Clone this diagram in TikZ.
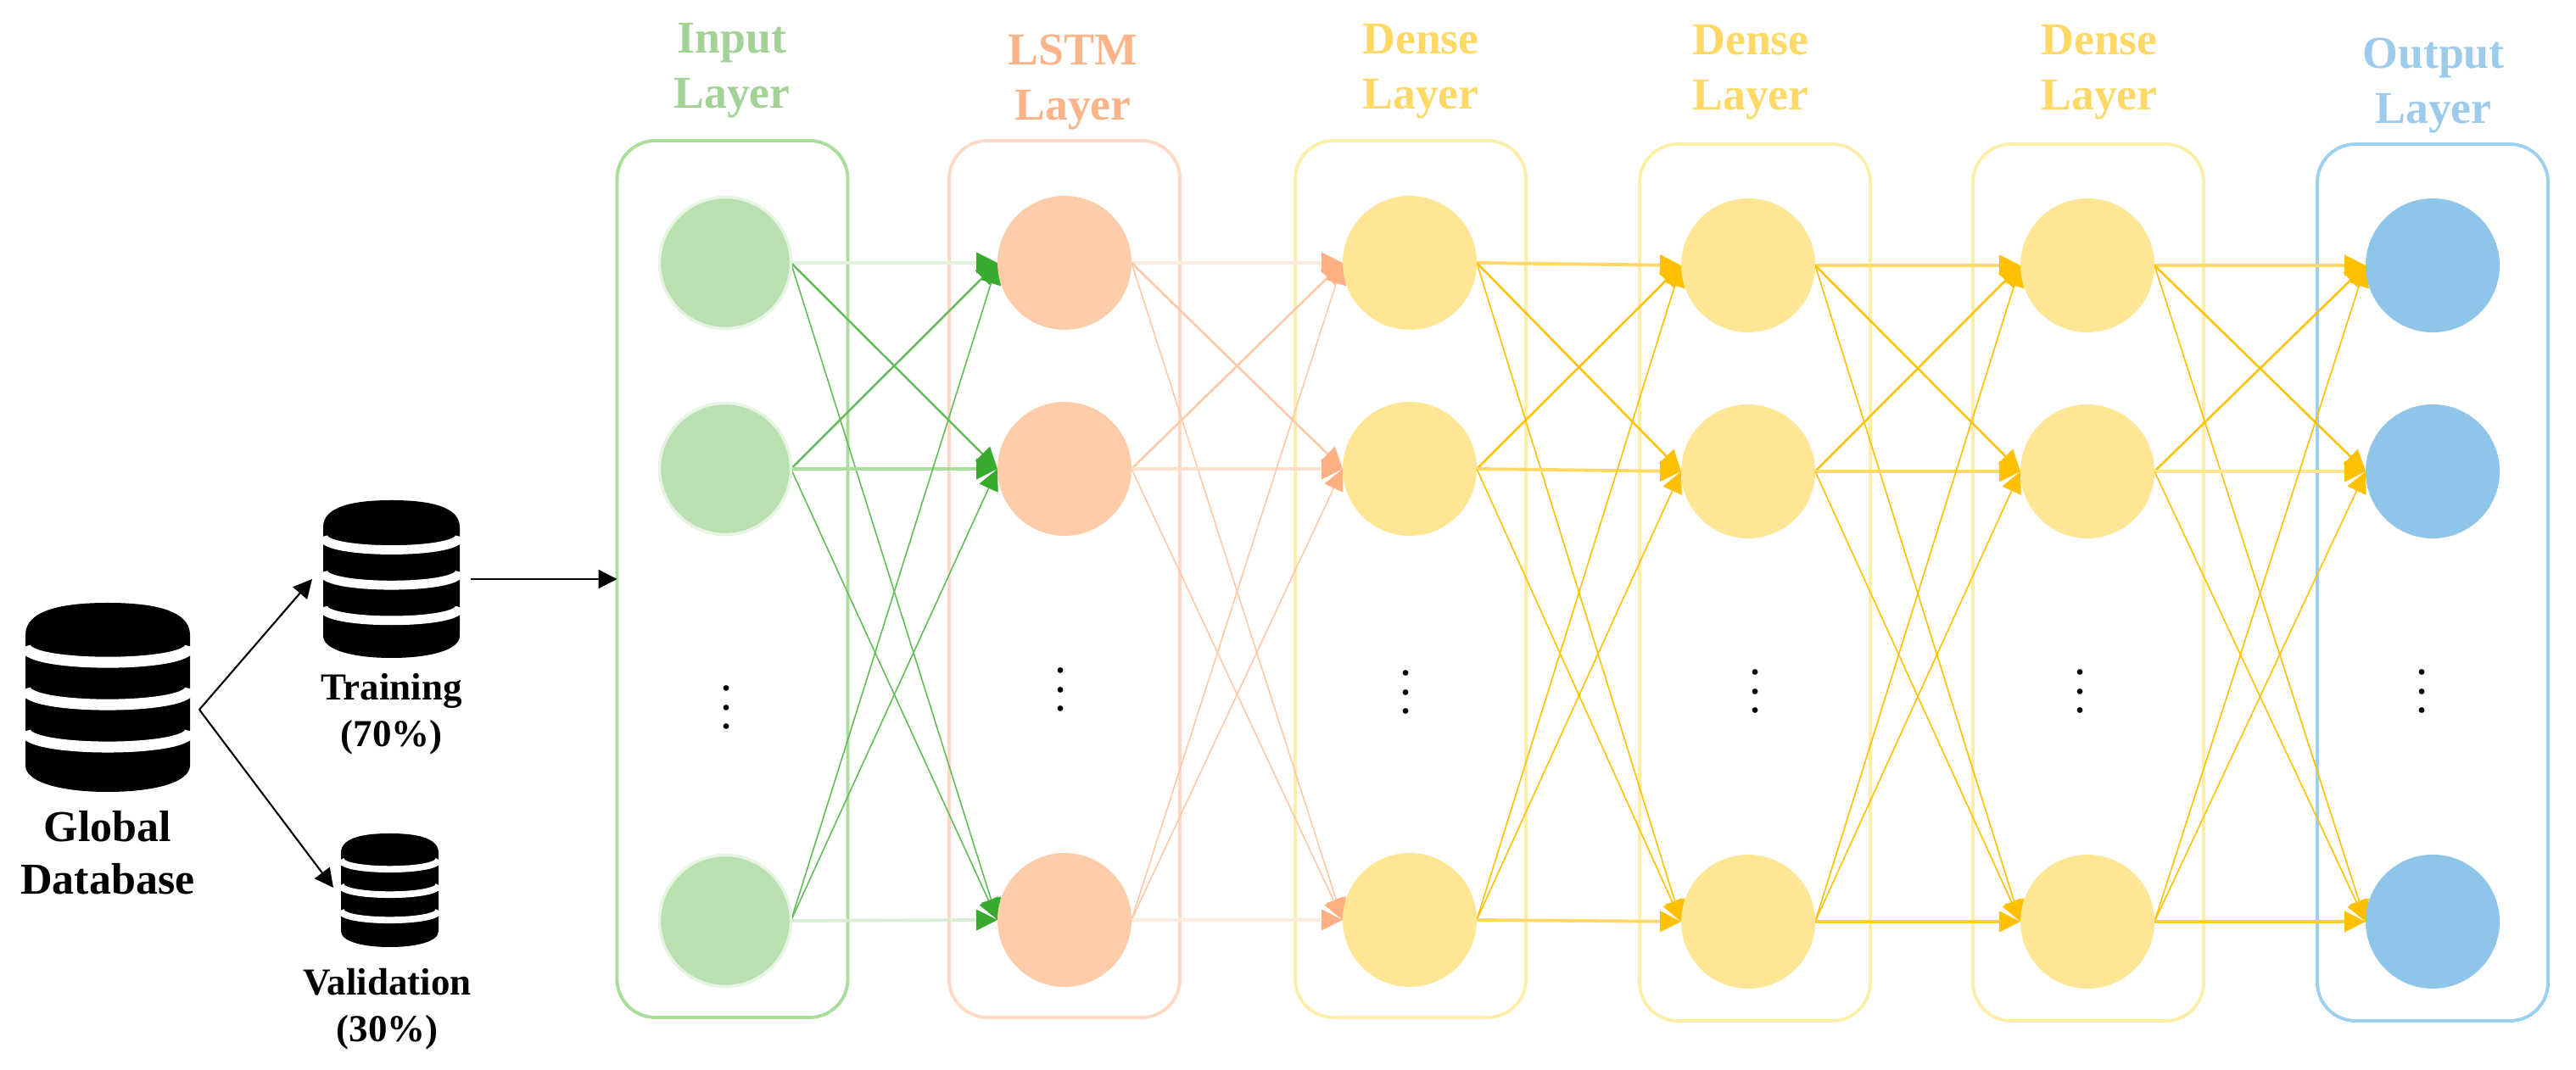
\documentclass[tikz,border=0pt]{standalone}
\usepackage{fontspec}
\setmainfont{Liberation Serif}
\usetikzlibrary{positioning, backgrounds, arrows.meta}
\definecolor{ingreen}{HTML}{BADFB1}
\definecolor{ingreenrim}{HTML}{E6F4E2}
\definecolor{ingreenbox}{HTML}{A8DE9A}
\definecolor{ingreentxt}{HTML}{A3D296}
\definecolor{ingreenline}{HTML}{62BC58}
\definecolor{ingreentip}{HTML}{38AB2E}
\definecolor{lsorange}{HTML}{FFCCAA}
\definecolor{lsorangebox}{HTML}{FFD9C4}
\definecolor{lsorangetxt}{HTML}{FBB388}
\definecolor{lsorangeline}{HTML}{FFC7A6}
\definecolor{lsorangetip}{HTML}{FFB083}
\definecolor{dnyellow}{HTML}{FFE695}
\definecolor{dnyellowbox}{HTML}{FFEEA8}
\definecolor{dnyellowtxt}{HTML}{FFD966}
\definecolor{dnyellowtip}{HTML}{FFC000}
\definecolor{oublue}{HTML}{8FC5E9}
\definecolor{oublueboxc}{HTML}{9BD0F1}
\definecolor{oubluetxt}{HTML}{9DCBEC}

\newcommand{\dbicon}[3]{%
  \begin{scope}[shift={(#1.north)}, x=#2cm, y=-#3cm]
    \fill[black] (-.5,.17) .. controls (-.5,.04) and (-.28,0) .. (0,0)
      .. controls (.28,0) and (.5,.04) .. (.5,.17)
      -- (.5,.86) .. controls (.5,.95) and (.28,1) .. (0,1)
      .. controls (-.28,1) and (-.5,.95) .. (-.5,.86) -- cycle;
    \draw[white, line width=#3*0.058cm]
      (-.5,.23) .. controls (-.5,.343) and (.5,.343) .. (.5,.23)
      (-.5,.454) .. controls (-.5,.567) and (.5,.567) .. (.5,.454)
      (-.5,.678) .. controls (-.5,.791) and (.5,.791) .. (.5,.678);
  \end{scope}}

\begin{document}
\begin{tikzpicture}[
  >=Stealth,
  arr/.style 2 args={-{Triangle[length=0.25cm, width=0.24cm, color=#2]},
                     draw=#1, line width=0.7pt},
  arrt/.style 2 args={arr={#1}{#2}, line width=0.45pt},
  arrh/.style 2 args={arr={#1}{#2}, line width=1.1pt},
  arrk/.style={-{Triangle[length=0.22cm, width=0.22cm]}, draw=black, line width=0.6pt},
  cir/.style={circle, fill=#1, minimum size=1.58cm, inner sep=0pt, outer sep=0pt},
  lyr/.style={draw=#1, line width=1.1pt, rounded corners=0.45cm, minimum width=2.72cm,
              minimum height=10.34cm, inner sep=0pt, outer sep=0pt},
  ttl/.style={text=#1, align=center, font=\fontsize{15.3}{18.4}\selectfont\bfseries},
  dbl/.style 2 args={align=center, font=\fontsize{#1}{#2}\selectfont\bfseries},
  vdt/.style={inner sep=0pt},
  dbs/.style 2 args={minimum width=#1cm, minimum height=#2cm, inner sep=0pt, outer sep=0pt},
]

\useasboundingbox (0,0) rectangle (30.37,12.62);

%% ===== LEFT: DATABASES =====

\node[dbs={1.94}{2.23}] (globaldb) at (1.27,4.395) {};
\dbicon{globaldb}{1.94}{2.23}
\node[dbl={14.8}{17.6}, below=0.1cm of globaldb] (globaltxt) {Global\\Database};

\node[dbs={1.61}{1.86}] (traindb) at (4.615,5.79) {};
\dbicon{traindb}{1.61}{1.86}
\node[dbl={12.8}{15.5}, below=0.06cm of traindb] (traintxt) {Training\\(70\%)};

\node[dbs={1.15}{1.34}] (valdb) at (4.595,2.12) {};
\dbicon{valdb}{1.15}{1.34}
\node[dbl={12.8}{15.5}, below=0.13cm of valdb, xshift=-0.03cm] (valtxt) {Validation\\(30\%)};

\coordinate (split) at ([xshift=0.11cm, yshift=-0.145cm]globaldb.east);

%% ===== LAYER CIRCLES =====

\node[cir=ingreen, draw=ingreenrim, line width=1pt, minimum size=1.55cm] (in1) at (8.55,9.52) {};
\node[cir=ingreen, draw=ingreenrim, line width=1pt, minimum size=1.55cm, below=0.88cm of in1] (in2) {};
\node[cir=ingreen, draw=ingreenrim, line width=1pt, minimum size=1.55cm, below=3.78cm of in2] (in4) {};
\node[vdt] (in3) at (8.57,4.44) {\scalebox{1.6}{$\vdots$}};

\node[cir=lsorange] (ls1) at (12.55,9.52) {};
\node[cir=lsorange, below=0.85cm of ls1] (ls2) {};
\node[cir=lsorange, below=3.74cm of ls2] (ls4) {};
\node[vdt] (ls3) at (12.51,4.65) {\scalebox{1.6}{$\vdots$}};

\node[cir=dnyellow] (da1) at (16.62,9.52) {};
\node[cir=dnyellow, below=0.85cm of da1] (da2) {};
\node[cir=dnyellow, below=3.74cm of da2] (da4) {};
\node[vdt] (da3) at (16.58,4.62) {\scalebox{1.6}{$\vdots$}};

\node[cir=dnyellow] (db1) at (20.61,9.49) {};
\node[cir=dnyellow, below=0.85cm of db1] (db2) {};
\node[cir=dnyellow, below=3.73cm of db2] (db4) {};
\node[vdt] (db3) at (20.70,4.63) {\scalebox{1.6}{$\vdots$}};

\node[cir=dnyellow] (dc1) at (24.61,9.49) {};
\node[cir=dnyellow, below=0.85cm of dc1] (dc2) {};
\node[cir=dnyellow, below=3.73cm of dc2] (dc4) {};
\node[vdt] (dc3) at (24.52,4.63) {\scalebox{1.6}{$\vdots$}};

\node[cir=oublue] (ou1) at (28.68,9.49) {};
\node[cir=oublue, below=0.85cm of ou1] (ou2) {};
\node[cir=oublue, below=3.73cm of ou2] (ou4) {};
\node[vdt] (ou3) at (28.55,4.63) {\scalebox{1.6}{$\vdots$}};

%% ===== LAYER TITLES =====

\node[ttl=ingreentxt] (intxt) at (8.63,11.79) {Input\\Layer};
\node[ttl=lsorangetxt] (lstxt) at (12.65,11.65) {LSTM\\Layer};
\node[ttl=dnyellowtxt] (datxt) at (16.75,11.78) {Dense\\Layer};
\node[ttl=dnyellowtxt] (dbtxt) at (20.64,11.77) {Dense\\Layer};
\node[ttl=dnyellowtxt] (dctxt) at (24.75,11.77) {Dense\\Layer};
\node[ttl=oubluetxt] (outxt) at (28.69,11.61) {Output\\Layer};

%% ===== BOXES AND ARROWS (behind the circles) =====

\begin{pgfonlayer}{background}
  \node[lyr=ingreenbox] (inbox) at (8.635,5.79) {};
  \node[lyr=lsorangebox] (lsbox) at (12.55,5.79) {};
  \node[lyr=dnyellowbox] (dabox) at (16.63,5.79) {};
  \node[lyr=dnyellowbox] (dbbox) at (20.69,5.75) {};
  \node[lyr=dnyellowbox] (dcbox) at (24.62,5.75) {};
  \node[lyr=oublueboxc] (oubox) at (28.68,5.75) {};

  \draw[arrh={ingreen!45}{ingreentip}] (in1.east) -- (ls1.west);
  \draw[arr={ingreenline}{ingreentip}] (in1.east) -- (ls2.west);
  \draw[arrt={ingreenline}{ingreentip}] (in1.east) -- (ls4.west);
  \draw[arr={ingreenline}{ingreentip}] (in2.east) -- (ls1.west);
  \draw[arrh={ingreenbox}{ingreentip}] (in2.east) -- (ls2.west);
  \draw[arrt={ingreenline}{ingreentip}] (in2.east) -- (ls4.west);
  \draw[arrt={ingreenline}{ingreentip}] (in4.east) -- (ls1.west);
  \draw[arrt={ingreenline}{ingreentip}] (in4.east) -- (ls2.west);
  \draw[arrh={ingreen!55}{ingreentip}] (in4.east) -- (ls4.west);

  \draw[arrh={lsorange!40}{lsorangetip}] (ls1.east) -- (da1.west);
  \draw[arr={lsorangeline}{lsorangetip}] (ls1.east) -- (da2.west);
  \draw[arrt={lsorangeline}{lsorangetip}] (ls1.east) -- (da4.west);
  \draw[arr={lsorangeline}{lsorangetip}] (ls2.east) -- (da1.west);
  \draw[arrh={lsorange!60}{lsorangetip}] (ls2.east) -- (da2.west);
  \draw[arrt={lsorangeline}{lsorangetip}] (ls2.east) -- (da4.west);
  \draw[arrt={lsorangeline}{lsorangetip}] (ls4.east) -- (da1.west);
  \draw[arrt={lsorangeline}{lsorangetip}] (ls4.east) -- (da2.west);
  \draw[arrh={lsorange!40}{lsorangetip}] (ls4.east) -- (da4.west);

  \draw[arrh={dnyellowtxt}{dnyellowtip}] (da1.east) -- (db1.west);
  \draw[arr={dnyellowtip}{dnyellowtip}] (da1.east) -- (db2.west);
  \draw[arrt={dnyellowtip}{dnyellowtip}] (da1.east) -- (db4.west);
  \draw[arr={dnyellowtip}{dnyellowtip}] (da2.east) -- (db1.west);
  \draw[arrh={dnyellowtxt}{dnyellowtip}] (da2.east) -- (db2.west);
  \draw[arrt={dnyellowtip}{dnyellowtip}] (da2.east) -- (db4.west);
  \draw[arrt={dnyellowtip}{dnyellowtip}] (da4.east) -- (db1.west);
  \draw[arrt={dnyellowtip}{dnyellowtip}] (da4.east) -- (db2.west);
  \draw[arrh={dnyellowtxt}{dnyellowtip}] (da4.east) -- (db4.west);

  \draw[arrh={dnyellowtxt}{dnyellowtip}] (db1.east) -- (dc1.west);
  \draw[arr={dnyellowtip}{dnyellowtip}] (db1.east) -- (dc2.west);
  \draw[arrt={dnyellowtip}{dnyellowtip}] (db1.east) -- (dc4.west);
  \draw[arr={dnyellowtip}{dnyellowtip}] (db2.east) -- (dc1.west);
  \draw[arrh={dnyellowtxt}{dnyellowtip}] (db2.east) -- (dc2.west);
  \draw[arrt={dnyellowtip}{dnyellowtip}] (db2.east) -- (dc4.west);
  \draw[arrt={dnyellowtip}{dnyellowtip}] (db4.east) -- (dc1.west);
  \draw[arrt={dnyellowtip}{dnyellowtip}] (db4.east) -- (dc2.west);
  \draw[arrh={dnyellowtip!80}{dnyellowtip}] (db4.east) -- (dc4.west);

  \draw[arrh={dnyellowtxt}{dnyellowtip}] (dc1.east) -- (ou1.west);
  \draw[arr={dnyellowtip}{dnyellowtip}] (dc1.east) -- (ou2.west);
  \draw[arrt={dnyellowtip}{dnyellowtip}] (dc1.east) -- (ou4.west);
  \draw[arr={dnyellowtip}{dnyellowtip}] (dc2.east) -- (ou1.west);
  \draw[arrh={dnyellow}{dnyellowtip}] (dc2.east) -- (ou2.west);
  \draw[arrt={dnyellowtip}{dnyellowtip}] (dc2.east) -- (ou4.west);
  \draw[arrt={dnyellowtip}{dnyellowtip}] (dc4.east) -- (ou1.west);
  \draw[arrt={dnyellowtip}{dnyellowtip}] (dc4.east) -- (ou2.west);
  \draw[arrh={dnyellowtip!80}{dnyellowtip}] (dc4.east) -- (ou4.west);
\end{pgfonlayer}

%% ===== DATA ARROWS =====

\draw[arrk] (split) -- ([xshift=-0.13cm]traindb.west);
\draw[arrk] (split) -- ([xshift=-0.09cm, yshift=0.03cm]valdb.west);
\draw[arrk, shorten <=0.13cm] (traindb.east) -- (inbox.west);

\end{tikzpicture}
\end{document}
